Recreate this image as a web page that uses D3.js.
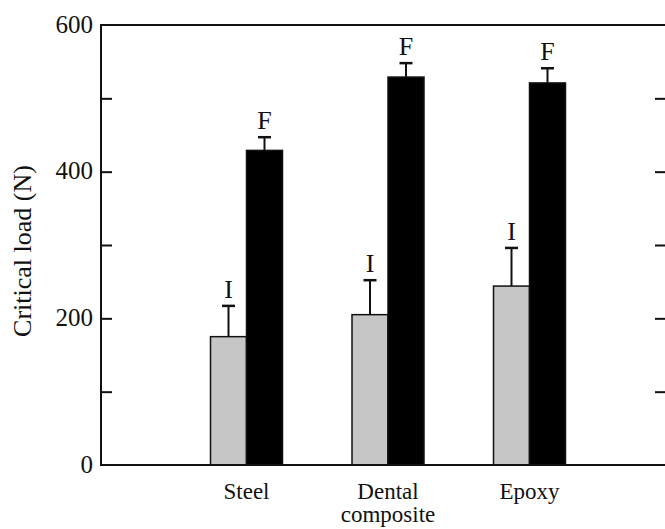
<!DOCTYPE html>
<html>
<head>
<meta charset="utf-8">
<script src="https://cdn.jsdelivr.net/npm/d3@7"></script>
</head>
<body style="margin:0">
<div class="canvas"></div>
<script>
//Data
const categories = ['Steel', 'Dental composite', 'Epoxy'];
const series = ['I', 'F'];
const initiation = [175, 205, 244];
const initiationErr = [42, 47, 52];
const fracture = [429, 529, 521];
const fractureErr = [18, 19, 20];
const yTicks = [0, 200, 400, 600];
const yMinor = [100, 200, 300, 400, 500];

const serif = '"Liberation Serif", serif';

//Canvas
const
    width = 665,
    height = 529,
    plotL = 101,
    plotR = 667,
    plotT = 25,
    plotB = 465;

const svg = d3.select('.canvas')
    .append('svg')
    .attr('width', width)
    .attr('height', height);

const yScale = d3.scaleLinear()
    .domain([0, 600])
    .range([plotB, plotT]);

const xScale = d3.scalePoint()
    .domain(categories)
    .range([plotL + 4, plotR + 4])
    .padding(1);

const xInner = d3.scaleBand()
    .domain(series)
    .range([-36, 36])
    .padding(0);

const rows = categories.map((c, i) => [
    { cat: c, key: 'I', value: initiation[i], err: initiationErr[i], fill: '#c6c6c6' },
    { cat: c, key: 'F', value: fracture[i], err: fractureErr[i], fill: '#000' }
]).flat();

//Bars
svg.append('g')
    .selectAll('rect')
    .data(rows)
    .enter()
    .append('rect')
    .attr('x', d => xScale(d.cat) + xInner(d.key))
    .attr('y', d => yScale(d.value))
    .attr('width', xInner.bandwidth())
    .attr('height', d => yScale(0) - yScale(d.value))
    .attr('fill', d => d.fill)
    .attr('stroke', '#111')
    .attr('stroke-width', 1.5);

//Error bars (upper only)
const err = svg.append('g')
    .selectAll('g')
    .data(rows)
    .enter()
    .append('g')
    .attr('transform', d => `translate(${xScale(d.cat) + xInner(d.key) + xInner.bandwidth() / 2}, 0)`);

err.append('line')
    .attr('y1', d => yScale(d.value))
    .attr('y2', d => yScale(d.value + d.err))
    .attr('stroke', '#111')
    .attr('stroke-width', 2);

err.append('line')
    .attr('x1', -6.5)
    .attr('x2', 6.5)
    .attr('y1', d => yScale(d.value + d.err))
    .attr('y2', d => yScale(d.value + d.err))
    .attr('stroke', '#111')
    .attr('stroke-width', 2.5);

err.append('text')
    .attr('y', d => yScale(d.value + d.err) - 8)
    .attr('text-anchor', 'middle')
    .style('font-family', serif)
    .style('font-size', '26px')
    .attr('fill', '#111')
    .text(d => d.key);

//Frame
svg.append('rect')
    .attr('x', plotL)
    .attr('y', plotT)
    .attr('width', plotR - plotL)
    .attr('height', plotB - plotT)
    .attr('fill', 'none')
    .attr('stroke', '#111')
    .attr('stroke-width', 2);

//Inner ticks
svg.append('g')
    .attr('transform', `translate(${plotL}, 0)`)
    .call(d3.axisRight(yScale).tickValues(yMinor).tickSize(11).tickFormat(''))
    .call(g => g.select('.domain').remove())
    .call(g => g.selectAll('line').attr('stroke', '#111').attr('stroke-width', 2));

svg.append('g')
    .attr('transform', `translate(${plotR}, 0)`)
    .call(d3.axisLeft(yScale).tickValues(yMinor).tickSize(12).tickFormat(''))
    .call(g => g.select('.domain').remove())
    .call(g => g.selectAll('line').attr('stroke', '#111').attr('stroke-width', 2));

//Y labels
svg.append('g')
    .attr('transform', `translate(${plotL}, 0)`)
    .call(d3.axisLeft(yScale).tickValues(yTicks).tickSize(0).tickPadding(8))
    .attr('font-family', null)
    .attr('font-size', null)
    .call(g => g.select('.domain').remove())
    .call(g => g.selectAll('text')
        .attr('dy', '0.28em')
        .style('font-family', serif)
        .style('font-size', '25px')
        .attr('fill', '#111'));

svg.append('text')
    .attr('transform', `translate(31, ${(plotT + plotB) / 2 + 6}) rotate(-90)`)
    .attr('text-anchor', 'middle')
    .style('font-family', serif)
    .style('font-size', '26px')
    .attr('fill', '#111')
    .text('Critical load (N)');

//X labels
svg.append('g')
    .selectAll('text')
    .data(categories)
    .enter()
    .append('text')
    .attr('x', d => xScale(d))
    .attr('y', 499)
    .attr('text-anchor', 'middle')
    .style('font-family', serif)
    .style('font-size', '23px')
    .attr('fill', '#111')
    .each(function (d) {
        const words = d.split(' ');
        d3.select(this).selectAll('tspan')
            .data(words)
            .enter()
            .append('tspan')
            .attr('x', xScale(d))
            .attr('dy', (w, i) => i === 0 ? 0 : 23)
            .text(w => w);
    });
</script>
</body>
</html>
